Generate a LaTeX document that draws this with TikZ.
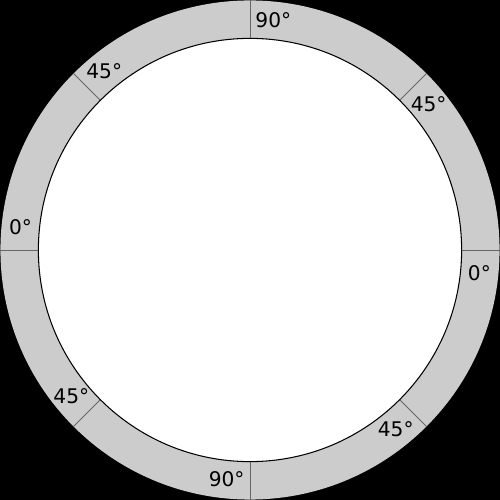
\documentclass[tikz,border=0pt]{standalone}
\usepackage{fontspec}
\setmainfont{DejaVu Sans}
\tikzset{
  tick/.style={black!60, line width=0.5pt},
  anglelabel/.style={inner sep=0pt, font=\fontsize{11.5}{13}\selectfont}
}
\begin{document}
\begin{tikzpicture}
  \fill[black] (-5,-5) rectangle (5,5);
  \fill[black!20] (0,0) circle (5);
  \fill[white] (0,0) circle (4.24);
  \foreach \a/\t in {0/0,45/45,90/90,135/45,180/0,225/45,270/90,315/45} {
    \draw[tick] (\a:4.24) -- (\a:5);
    \node[anglelabel] (label\a) at (\a-5.8:4.62) {\t°};
  }
  \draw[black, line width=0.6pt] (0,0) circle (4.24);
\end{tikzpicture}
\end{document}
